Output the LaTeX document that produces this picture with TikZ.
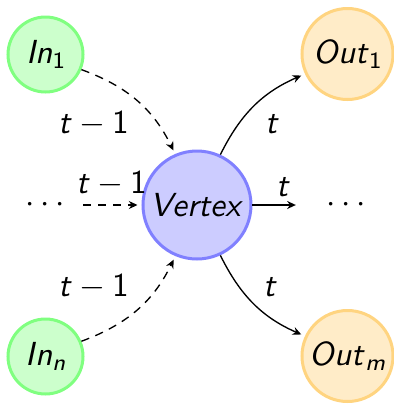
\documentclass[tikz,border=0pt]{standalone}
\usetikzlibrary{arrows.meta}
\definecolor{outfill}{RGB}{255,236,200}
\definecolor{outdraw}{RGB}{255,212,128}
% sans italic labels with a lowered small index
\newcommand\idx[1]{\raisebox{-1.6pt}{\fontsize{7}{7}\selectfont #1}}
\newcommand\var[1]{\textit{#1}}
\begin{document}
\begin{tikzpicture}[x=0.3pt,y=-0.3pt,
  every node/.style={font=\sffamily},
  innode/.style={circle,draw=green!50,fill=green!20,line width=0.9pt,minimum size=22.5pt,inner sep=0pt},
  outnode/.style={circle,draw=outdraw,fill=outfill,line width=0.9pt,minimum size=27.3pt,inner sep=0pt},
  vnode/.style={circle,draw=blue!50,fill=blue!20,line width=0.9pt,minimum size=32.4pt,inner sep=0pt},
  dotsin/.style={circle,minimum size=22.5pt,inner sep=0pt},
  dotsout/.style={circle,minimum size=27.3pt,inner sep=0pt},
  link/.style={line width=0.4pt,-{Stealth[length=2.6pt,width=2.4pt]},shorten >=1.2pt},
  prevlink/.style={link,dash pattern=on 2.5pt off 2pt},
  lbl/.style={inner sep=0pt}]
\useasboundingbox (0,0) rectangle (394,405);

% vertices
\node[vnode] (v) at (197,205) {\var{Vertex}};
\node[innode] (in1) at (45.5,54.5) {\var{In}\idx{1}};
\node[innode] (inn) at (45.5,356.5) {\var{In}\idx{\var{n}}};
\node[outnode] (out1) at (347.5,54) {\var{Out}\idx{1}};
\node[outnode] (outm) at (347.5,356) {\var{Out}\idx{\var{m}}};
\node[dotsin] (din) at (45,205) {$\cdots$};
\node[dotsout] (dout) at (346,205) {$\cdots$};

% incoming edges (previous step)
\draw[prevlink] (in1) to[bend left=22] (v);
\draw[prevlink] (inn) to[bend right=22] (v);
\draw[prevlink] (din) -- (v);

% outgoing edges (current step)
\draw[link] (v) to[bend left=20] (out1);
\draw[link] (v) to[bend right=20] (outm);
\draw[link] (v) -- (dout);

% edge labels
\node[lbl] (l1) at (94,124) {\var{t}${}-{}$1};
\node[lbl] (l2) at (112,184) {\var{t}${}-{}$1};
\node[lbl] (l3) at (94,287) {\var{t}${}-{}$1};
\node[lbl] (l4) at (272,124) {\var{t}};
\node[lbl] (l5) at (283,187) {\var{t}};
\node[lbl] (l6) at (270,287) {\var{t}};
\end{tikzpicture}
\end{document}
